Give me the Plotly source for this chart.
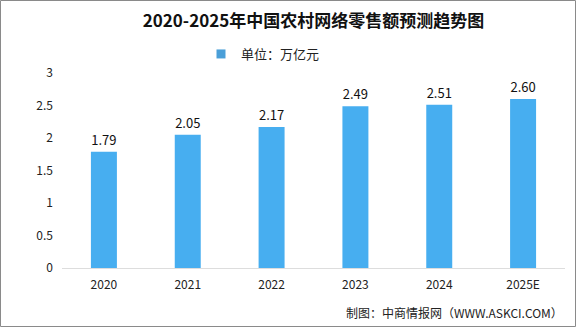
import plotly.graph_objects as go

years = ["2020", "2021", "2022", "2023", "2024", "2025E"]
values = [1.79, 2.05, 2.17, 2.49, 2.51, 2.60]
value_labels = ["1.79", "2.05", "2.17", "2.49", "2.51", "2.60"]
series_name = "单位：万亿元"
title_text = "2020-2025年中国农村网络零售额预测趋势图"
source_text = "制图：中商情报网（WWW.ASKCI.COM）"

W, H = 576, 327
L, R, T, B = 62, 11, 73, 59
pw, ph = W - L - R, H - T - B

FONT = "Noto Sans CJK SC"
BAR = "#47AEF0"

fig = go.Figure()
fig.add_trace(go.Bar(
    x=years, y=values, name=series_name,
    marker=dict(color=BAR, line=dict(width=0)),
    text=value_labels, textposition="outside", cliponaxis=False,
    textfont=dict(size=13, color="#111111", family=FONT),
    showlegend=False,
))
# legend entry drawn as a small square, like the reference
fig.add_trace(go.Scatter(
    x=[None], y=[None], mode="markers", name=series_name,
    marker=dict(symbol="square", size=9, color="#4A9FD8"),
    showlegend=True, hoverinfo="skip",
))

fig.update_layout(
    width=W, height=H,
    margin=dict(l=L, r=R, t=T, b=B),
    paper_bgcolor="white", plot_bgcolor="white",
    font=dict(family=FONT, color="#222222"),
    bargap=0.69,
    title=dict(text="<b>" + title_text + "</b>", x=0.5, xref="paper", xanchor="center",
               y=1 - 21 / H, yanchor="middle", yref="container",
               font=dict(size=17, color="#111111", family=FONT)),
    legend=dict(orientation="h", x=(201 - L) / pw, xanchor="left",
                y=1 + (T - 54) / ph, yanchor="middle",
                font=dict(size=13, color="#222222", family=FONT),
                itemwidth=30, bgcolor="rgba(0,0,0,0)"),
    xaxis=dict(showgrid=False, showline=True, linecolor="#dddddd", linewidth=1,
               ticks="", tickfont=dict(size=12, color="#222222", family=FONT),
               ticklabelstandoff=6),
    yaxis=dict(range=[0, 3], dtick=0.5, showgrid=False, zeroline=False, showline=False,
               tickfont=dict(size=12, color="#222222", family=FONT),
               ticklabelstandoff=8),
)

fig.add_annotation(text=source_text, xref="paper", yref="paper",
                   x=1 + (565 - (W - R)) / pw, xanchor="right",
                   y=-(312 - (H - B)) / ph, yanchor="middle",
                   showarrow=False, font=dict(size=12, color="#222222", family=FONT))

# gray frame around the picture
fig.add_shape(type="rect", xref="paper", yref="paper",
              x0=-(L - 0.5) / pw, x1=1 + (R - 0.5) / pw,
              y0=-(B - 0.5) / ph, y1=1 + (T - 0.5) / ph,
              line=dict(color="#8a8a8a", width=1), fillcolor="rgba(0,0,0,0)", layer="above")

fig.write_html("out.html")
